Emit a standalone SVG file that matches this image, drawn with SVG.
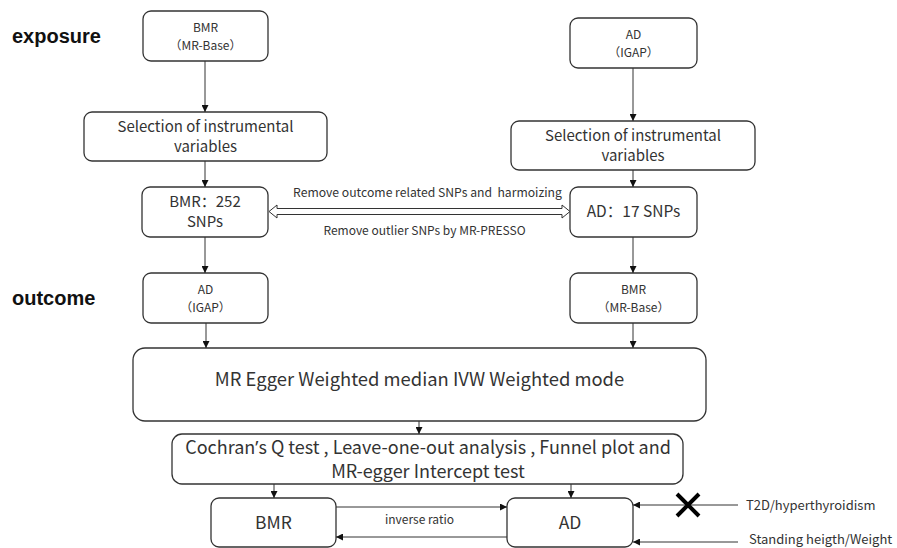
<svg xmlns="http://www.w3.org/2000/svg" width="897" height="548" viewBox="0 0 897 548">
<defs>
<style>
.box{fill:#fff;stroke:#333;stroke-width:1.3}
.t{font-family:"Noto Sans CJK SC","Noto Sans",sans-serif;fill:#333;text-anchor:middle}
.lat{font-family:"Noto Sans","Liberation Sans",sans-serif}
.lbl{font-family:"Liberation Sans",Arial,sans-serif;font-weight:bold;font-size:20px;fill:#111}
.ln{stroke:#333;stroke-width:1;fill:none}
</style>
<marker id="ah" viewBox="0 0 10 10" refX="10" refY="5" markerWidth="7" markerHeight="7" markerUnits="userSpaceOnUse" orient="auto">
<path d="M0,0 L10,5 L0,10 Z" fill="#111"/>
</marker>
</defs>
<rect width="897" height="548" fill="#fff"/>
<text class="lbl" x="12" y="43">exposure</text>
<text class="lbl" x="12" y="305">outcome</text>

<g id="bmr-top"><rect class="box" x="143" y="11" width="125" height="50" rx="8"/>
<text class="t" font-size="12" x="205.5" y="32">BMR</text><text class="t" font-size="12" x="205.5" y="50">（MR-Base）</text></g>
<g id="sel-left"><rect class="box" x="84" y="112" width="243" height="49" rx="8"/>
<text class="t" font-size="15" x="205.5" y="132">Selection of instrumental</text><text class="t" font-size="15" x="205.5" y="152">variables</text></g>
<g id="bmr-snps"><rect class="box" x="142" y="187" width="126" height="50" rx="8"/>
<text class="t" font-size="15" x="205" y="207">BMR：252</text><text class="t" font-size="15" x="205" y="227">SNPs</text></g>
<g id="ad-out"><rect class="box" x="143" y="273" width="125" height="50" rx="8"/>
<text class="t" font-size="12" x="205.5" y="294">AD</text><text class="t" font-size="12" x="205.5" y="312">（IGAP）</text></g>

<g id="ad-top"><rect class="box" x="570" y="18" width="127" height="50" rx="8"/>
<text class="t" font-size="12" x="633.5" y="39">AD</text><text class="t" font-size="12" x="633.5" y="57">（IGAP）</text></g>
<g id="sel-right"><rect class="box" x="511" y="121" width="244" height="49" rx="8"/>
<text class="t" font-size="15" x="633" y="141">Selection of instrumental</text><text class="t" font-size="15" x="633" y="161">variables</text></g>
<g id="ad-snps"><rect class="box" x="570" y="187" width="127" height="50" rx="8"/>
<text class="t" font-size="15.5" x="633.5" y="217">AD：17 SNPs</text></g>
<g id="bmr-out"><rect class="box" x="570" y="273" width="127" height="50" rx="8"/>
<text class="t" font-size="12" x="633.5" y="294">BMR</text><text class="t" font-size="12" x="633.5" y="312">（MR-Base）</text></g>

<g id="methods"><rect class="box" x="133" y="348" width="573" height="73" rx="12"/>
<text class="t" font-size="18.4" x="419.5" y="386">MR Egger Weighted median IVW Weighted mode</text></g>
<g id="sens"><rect class="box" x="172" y="434" width="511" height="50" rx="10"/>
<text class="t" font-size="18" x="428" y="454">Cochran<tspan class="lat">’</tspan>s Q test , Leave-one-out analysis , Funnel plot and</text>
<text class="t" font-size="18" x="428" y="478">MR-egger Intercept test</text></g>
<g id="bmr-bot"><rect class="box" x="211" y="498" width="125" height="49" rx="8"/>
<text class="t" font-size="17.5" x="273.5" y="529">BMR</text></g>
<g id="ad-bot"><rect class="box" x="507" y="498" width="126" height="49" rx="8"/>
<text class="t" font-size="17.5" x="570" y="529">AD</text></g>

<g id="connectors">
<line class="ln" x1="205" y1="61" x2="205" y2="112" marker-end="url(#ah)"/>
<line class="ln" x1="205" y1="161" x2="205" y2="187" marker-end="url(#ah)"/>
<line class="ln" x1="205" y1="237" x2="205" y2="273" marker-end="url(#ah)"/>
<line class="ln" x1="206" y1="323" x2="206" y2="348" marker-end="url(#ah)"/>
<line class="ln" x1="633" y1="68" x2="633" y2="121" marker-end="url(#ah)"/>
<line class="ln" x1="633" y1="170" x2="633" y2="187" marker-end="url(#ah)"/>
<line class="ln" x1="633" y1="237" x2="633" y2="273" marker-end="url(#ah)"/>
<line class="ln" x1="633" y1="323" x2="633" y2="348" marker-end="url(#ah)"/>
<line class="ln" x1="419" y1="421" x2="419" y2="434" marker-end="url(#ah)"/>
<line class="ln" x1="274" y1="484" x2="274" y2="498" marker-end="url(#ah)"/>
<line class="ln" x1="571" y1="484" x2="571" y2="498" marker-end="url(#ah)"/>
<path d="M269,211.5 L277,205 L277,208.5 L562,208.5 L562,205 L570,211.5 L562,218 L562,214.5 L277,214.5 L277,218 Z" fill="#fff" stroke="#333" stroke-width="1"/>
<text class="t" font-size="12.2" x="427.5" y="197" xml:space="preserve">Remove outcome related SNPs and  harmoizing</text>
<text class="t" font-size="12" x="424.5" y="235">Remove outlier SNPs by MR-PRESSO</text>
<line class="ln" x1="336" y1="507" x2="507" y2="507" marker-end="url(#ah)"/>
<line class="ln" x1="507" y1="537" x2="336" y2="537" marker-end="url(#ah)"/>
<text class="t" font-size="12" x="419.5" y="524">inverse ratio</text>
<line class="ln" x1="738" y1="505" x2="633" y2="505" marker-end="url(#ah)"/>
<line class="ln" x1="738" y1="542" x2="633" y2="542" marker-end="url(#ah)"/>
<path d="M677,494 L699,516 M699,494 L677,516" stroke="#000" stroke-width="4" fill="none"/>
<text class="t" font-size="13" x="746" y="510" style="text-anchor:start">T2D/hyperthyroidism</text>
<text class="t" font-size="13" x="749" y="544" style="text-anchor:start">Standing heigth/Weight</text>
</g>
</svg>
